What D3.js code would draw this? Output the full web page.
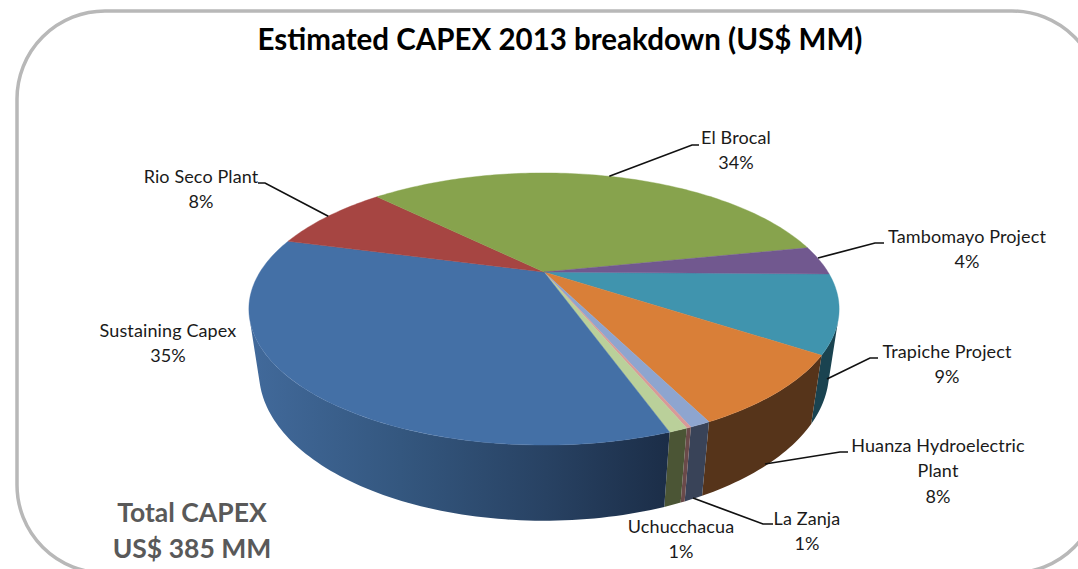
<!DOCTYPE html>
<html>
<head>
<meta charset="utf-8">
<script src="https://cdn.jsdelivr.net/npm/d3@7"></script>
<style>
  html, body { margin: 0; padding: 0; background: #fff; overflow: hidden; }
  text { font-family: Lato, "Open Sans", sans-serif; }
</style>
</head>
<body>
<script>
// slices run clockwise, starting at the Trapiche / Tambomayo edge
const categories = ["Trapiche Project", "Huanza Hydroelectric Plant", "La Zanja", "Other", "Uchucchacua", "Sustaining Capex", "Rio Seco Plant", "El Brocal", "Tambomayo Project"];
const values = [9.2, 8.3, 0.9, 0.2, 0.8, 34.5, 8.4, 34.1, 3.5];
const percentLabels = ["9%", "8%", "1%", "", "1%", "35%", "8%", "34%", "4%"];
const topColors = ["#4094ae", "#d97f38", "#8ea5cf", "#d89a98", "#bad09a", "#4470a6", "#a64542", "#87a34d", "#71588f"];
const sideColors = ["#1a4350", "#56341a", "#394358", "#6a4a4a", "#4b5535", "url(#blueSide)", "#5a2524", "#4a5a2a", "#3e3050"];

const width = 1078;
const height = 569;

// perspective pie: a unit circle through a projective map
const cam = {cx: 544, cy: 272, rx: 284, ry: 126, k: 0.272, lift: 0.033, vx: 544, vy: 2190};
const rad = Math.PI / 180;

const project = (t, wall) => {
	const s = Math.sin(t), c = Math.cos(t);
	const w = 1 - cam.k * s;
	const x = cam.cx + cam.rx * c / w;
	const y = cam.cy + cam.ry * s / w;
	if (!wall) return [x, y];
	const f = wall * cam.lift / (w + wall * cam.lift);
	return [x + f * (cam.vx - x), y + f * (cam.vy - y)];
};

const svg = d3.select("body").append("svg")
	.attr("width", width)
	.attr("height", height);

const grad = svg.append("defs").append("linearGradient")
	.attr("id", "blueSide")
	.attr("gradientUnits", "userSpaceOnUse")
	.attr("x1", 255).attr("x2", 670).attr("y1", 0).attr("y2", 0);
grad.selectAll("stop")
	.data([[0, "#41699a"], [0.35, "#34577f"], [0.7, "#284263"], [1, "#1b2d47"]])
	.enter().append("stop")
	.attr("offset", d => d[0])
	.attr("stop-color", d => d[1]);

// frame runs off the right and bottom of the picture
svg.append("rect")
	.attr("x", 17).attr("y", 11)
	.attr("width", 1083).attr("height", 562)
	.attr("rx", 88).attr("ry", 88)
	.attr("fill", "#fff")
	.attr("stroke", "#b8b8b8")
	.attr("stroke-width", 3.5);

const startT = 0.9 * rad;
const pie = d3.pie().sort(null).startAngle(startT).endAngle(startT + 2 * Math.PI);
const slices = pie(values);

const samples = (a0, a1) => {
	const n = Math.max(2, Math.ceil((a1 - a0) / 0.02));
	return d3.range(n + 1).map(i => a0 + (a1 - a0) * i / n);
};
const line = d3.line();

// only the front of the wall is drawn, back facing parts would cancel the fill at the edges
const frontFrom = 20 * rad;
const frontTo = 160 * rad;

svg.append("g").selectAll("path")
	.data(slices.filter(d => d.endAngle > frontFrom && d.startAngle < frontTo))
	.enter().append("path")
	.attr("d", d => {
		const ts = samples(Math.max(d.startAngle, frontFrom), Math.min(d.endAngle, frontTo));
		return line(ts.map(t => project(t, 0)).concat(ts.slice().reverse().map(t => project(t, 1)))) + "Z";
	})
	.attr("fill", d => sideColors[d.index]);

svg.append("g").selectAll("path")
	.data(slices)
	.enter().append("path")
	.attr("d", d => line([[cam.cx, cam.cy]].concat(samples(d.startAngle, d.endAngle).map(t => project(t, 0)))) + "Z")
	.attr("fill", (d, i) => topColors[i])
	.attr("stroke", (d, i) => topColors[i])
	.attr("stroke-width", 0.4);

// leader lines: top ones start on the rim at mid slice, wall ones at a spot on the wall
const midRim = (i) => project((slices[i].startAngle + slices[i].endAngle) / 2, 0);
const leaders = [
	{from: [827, 379], knee: [870, 358], to: [878, 358]},
	{from: [765, 464], knee: [840, 452], to: [848, 452]},
	{from: [693, 498], knee: [763, 524], to: [773, 524]},
	{from: midRim(6), knee: [265, 183], to: [258, 183]},
	{from: midRim(7), knee: [692, 145], to: [699, 145]},
	{from: [818, 258], knee: [875, 243], to: [884, 243]}
];
svg.append("g").selectAll("path")
	.data(leaders)
	.enter().append("path")
	.attr("d", d => line([d.from, d.knee, d.to]))
	.attr("fill", "none")
	.attr("stroke", "#111")
	.attr("stroke-width", 1.7);

// data labels, one text per line
const labelSpots = [
	{i: 0, x: 947, y: 358, lines: ["Trapiche Project"]},
	{i: 1, x: 938, y: 452, lines: ["Huanza Hydroelectric", "Plant"]},
	{i: 2, x: 807, y: 525, lines: ["La Zanja"]},
	{i: 4, x: 681, y: 533, lines: ["Uchucchacua"]},
	{i: 5, x: 168, y: 337, lines: ["Sustaining Capex"]},
	{i: 6, x: 201, y: 183, lines: ["Rio Seco Plant"]},
	{i: 7, x: 736, y: 144, lines: ["El Brocal"]},
	{i: 8, x: 967, y: 243, lines: ["Tambomayo Project"]}
];
const labelG = svg.append("g")
	.attr("font-size", 18)
	.attr("letter-spacing", 0.12)
	.attr("fill", "#1a1a1a")
	.attr("text-anchor", "middle");
labelSpots.forEach(l => {
	l.lines.concat(percentLabels[l.i]).forEach((txt, n) => {
		labelG.append("text")
			.attr("x", l.x)
			.attr("y", l.y + n * 25.3)
			.text(txt);
	});
});

svg.append("text")
	.attr("x", 560).attr("y", 50)
	.attr("text-anchor", "middle")
	.attr("font-size", 29.5)
	.attr("font-weight", 700)
	.attr("fill", "#000")
	.text("Estimated CAPEX 2013 breakdown (US$ MM)");

const totalG = svg.append("g")
	.attr("text-anchor", "middle")
	.attr("font-size", 26.5)
	.attr("font-weight", 700)
	.attr("fill", "#595959");
totalG.append("text").attr("x", 192).attr("y", 522).text("Total CAPEX");
totalG.append("text").attr("x", 192).attr("y", 558).text("US$ 385 MM");
</script>
</body>
</html>
